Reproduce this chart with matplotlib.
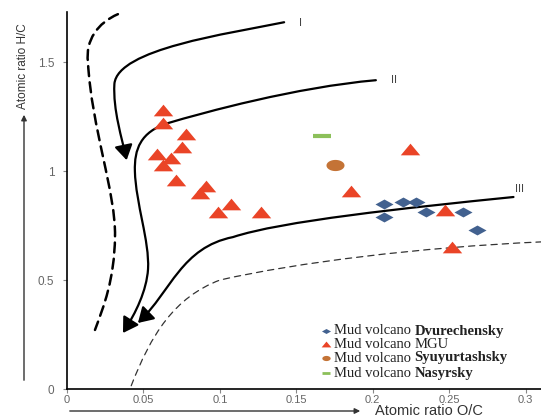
#!/usr/bin/python3
# Van Krevelen type diagram: H/C vs O/C for mud volcano samples
import numpy as np
import matplotlib
matplotlib.use("Agg")
from matplotlib import pyplot as plt
from matplotlib.path import Path
from matplotlib.patches import FancyArrowPatch

# sample data
dvur_oc = [0.207, 0.220, 0.228, 0.207, 0.235, 0.259, 0.268]
dvur_hc = [0.85, 0.86, 0.86, 0.79, 0.81, 0.81, 0.73]

mgu_oc = [0.063, 0.063, 0.078, 0.075, 0.059, 0.068, 0.063, 0.071, 0.091,
          0.087, 0.107, 0.099, 0.127, 0.186, 0.224, 0.247, 0.252]
mgu_hc = [1.28, 1.22, 1.17, 1.11, 1.08, 1.06, 1.03, 0.96, 0.93,
          0.90, 0.85, 0.81, 0.81, 0.91, 1.10, 0.82, 0.65]

syuy_oc = [0.175]
syuy_hc = [1.03]

nas_oc = [0.167]
nas_hc = [1.16]

# legend names (bold part) and whether bold
volcano_names = ['Dvurechensky', 'MGU', 'Syuyurtashsky', 'Nasyrsky']
name_bold = [True, False, True, True]

# evolution paths I, II, III (cubic bezier vertices, data units)
curve1 = [(0.142, 1.683), (0.105, 1.63), (0.033, 1.56), (0.031, 1.40),
          (0.030, 1.28), (0.036, 1.15), (0.039, 1.05)]
curve2 = [(0.202, 1.417), (0.15, 1.385), (0.09, 1.27), (0.066, 1.22),
          (0.048, 1.18), (0.044, 1.10), (0.0444, 1.00),
          (0.045, 0.85), (0.054, 0.68), (0.053, 0.55),
          (0.052, 0.45), (0.045, 0.35), (0.0366, 0.257)]
curve3 = [(0.292, 0.881), (0.22, 0.83), (0.14, 0.77), (0.1085, 0.697),
          (0.075, 0.65), (0.068, 0.45), (0.0464, 0.303)]
bound_left = [(0.0333, 1.72), (0.02, 1.68), (0.012, 1.60), (0.0137, 1.50),
              (0.016, 1.2), (0.032, 0.9), (0.0314, 0.70),
              (0.031, 0.5), (0.024, 0.38), (0.0183, 0.271)]
bound_low = [(0.042, 0.015), (0.055, 0.25), (0.07, 0.42), (0.10, 0.50),
             (0.15, 0.58), (0.23, 0.65), (0.31, 0.675)]

curve_labels = ["I", "II", "III"]
label_pos = [(0.1516, 1.679), (0.2118, 1.417), (0.2928, 0.917)]


def bezier(pts):
    codes = [Path.MOVETO] + [Path.CURVE4] * (len(pts) - 1)
    return Path(pts, codes)


def main():
    W, H = 541, 419
    fig = plt.figure(figsize=(W / 100, H / 100), dpi=100)
    ax = fig.add_axes([67 / W, 30 / H, 474 / W, 377 / H])

    ax.set_xlim(0, 0.31)
    ax.set_ylim(0, 1.73)

    # marker shapes
    diamond = [(0, 0.55), (1, 0), (0, -0.55), (-1, 0), (0, 0.55)]
    tri = [(0, 0.6), (1, -0.6), (-1, -0.6), (0, 0.6)]
    t = np.linspace(0, 2 * np.pi, 40)
    ellipse = list(zip(np.cos(t), 0.62 * np.sin(t)))

    styles = [
        dict(marker=diamond, color='#42618f', mec='none'),
        dict(marker=tri, color='#ea4427', mec='none'),
        dict(marker=ellipse, color='#c47336', mec='none'),
        dict(marker='_', color='#8cc05a', mew=3),
    ]
    sizes = [13, 14, 13, 13]
    leg_sizes = [6.5, 7, 6, 6]
    series = [(dvur_oc, dvur_hc), (mgu_oc, mgu_hc),
              (syuy_oc, syuy_hc), (nas_oc, nas_hc)]

    for (xs, ys), st, ms in zip(series, styles, sizes):
        ax.plot(xs, ys, ls='none', ms=ms, zorder=4, **st)

    # evolution paths with arrows
    for c in [curve1, curve2, curve3]:
        arr = FancyArrowPatch(path=bezier(c),
                              arrowstyle='-|>,head_length=0.9,head_width=0.55',
                              mutation_scale=10, lw=1.6, color='black', zorder=3)
        ax.add_patch(arr)

    ax.add_patch(FancyArrowPatch(path=bezier(bound_left), arrowstyle='-',
                                 lw=1.8, ls=(0, (4, 2.5)), color='black',
                                 zorder=2))
    ax.add_patch(FancyArrowPatch(path=bezier(bound_low), arrowstyle='-',
                                 lw=0.9, ls=(0, (5, 4)), color='#333333',
                                 zorder=2))

    for lab, (lx, ly) in zip(curve_labels, label_pos):
        ax.text(lx, ly, lab, fontsize=8, color='#444444',
                family='Liberation Sans', ha='left', va='center')

    # axes style
    for s in ['top', 'right']:
        ax.spines[s].set_visible(False)
    ax.spines['left'].set_linewidth(1.2)
    ax.spines['bottom'].set_linewidth(1.2)
    ax.set_xticks([0, 0.05, 0.1, 0.15, 0.2, 0.25, 0.3])
    ax.set_xticklabels(['0', '0.05', '0.1', '0.15', '0.2', '0.25', '0.3'])
    ax.set_yticks([0, 0.5, 1, 1.5])
    ax.set_yticklabels(['0', '0.5', '1', '1.5'])
    ax.tick_params(axis='both', direction='out', length=3, width=0.8,
                   color='#888888', labelcolor='#666666', labelsize=8)
    ax.tick_params(axis='x', pad=1)
    ax.tick_params(axis='y', labelsize=8.5, pad=6)
    for lbl in ax.get_xticklabels() + ax.get_yticklabels():
        lbl.set_family('Liberation Sans')

    # axis titles with long arrows
    fig.add_artist(FancyArrowPatch((24, H - 383), (24, H - 112),
                                   transform=None, arrowstyle='-|>',
                                   mutation_scale=8, lw=1.0, color='#333333'))
    fig.text(23 / W, 1 - 66 / H, 'Atomic ratio H/C', rotation=90,
             ha='center', va='center', fontsize=8.5, color='#333333',
             family='Liberation Sans')
    fig.add_artist(FancyArrowPatch((67, H - 411), (363, H - 411),
                                   transform=None, arrowstyle='-|>',
                                   mutation_scale=8, lw=1.0, color='#333333'))
    fig.text(375 / W, 1 - 411 / H, 'Atomic ratio O/C',
             ha='left', va='center', fontsize=10.5, color='#333333',
             family='Liberation Sans')

    # legend, built by hand: regular "Mud volcano" + (mostly bold) name
    row_y = [331, 344, 358, 373]
    for name, bold, st, ms, ry in zip(volcano_names, name_bold, styles,
                                      leg_sizes, row_y):
        st = dict(st)
        if st['marker'] == '_':
            st['mew'] = 2
        ax.plot([326 / W], [1 - ry / H], ls='none', ms=ms,
                transform=fig.transFigure, clip_on=False, **st)
        tx = fig.text(334 / W, 1 - ry / H, 'Mud volcano', ha='left',
                      va='center', fontsize=10.5, color='#222222',
                      family='Liberation Serif')
        ax.annotate(name, xy=(1, 0.5), xycoords=tx, xytext=(2.5, 0),
                    textcoords='offset points', ha='left', va='center',
                    fontsize=10.5, color='#222222', family='Liberation Serif',
                    fontweight='bold' if bold else 'normal')

    fig.savefig('out.png', dpi=100)


if __name__ == '__main__':
    main()
